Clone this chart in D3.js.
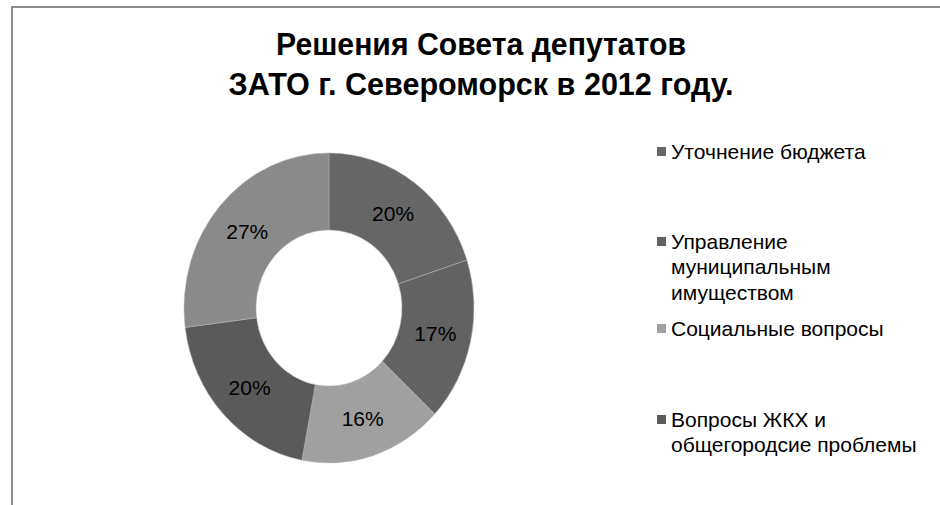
<!DOCTYPE html>
<html>
<head>
<meta charset="utf-8">
<script src="https://cdn.jsdelivr.net/npm/d3@7/dist/d3.min.js"></script>
<style>
  html, body { margin: 0; padding: 0; background: #fff; }
  svg { display: block; font-family: "Liberation Sans", Arial, sans-serif; }
</style>
</head>
<body>
<div id="chart"></div>
<script>
  // slice values (percent), clockwise from 12 o'clock
  const values = [20, 17, 16, 20, 27];
  const sliceColors = ['#666666', '#626262', '#a0a0a0', '#5a5a5a', '#8a8a8a'];
  const legendItems = [
    ['Уточнение бюджета'],
    ['Управление', 'муниципальным', 'имуществом'],
    ['Социальные вопросы'],
    ['Вопросы ЖКХ и', 'общегородсие проблемы']
  ];
  const titleLines = ['Решения Совета депутатов', 'ЗАТО г. Североморск в 2012 году.'];

  const W = 940, H = 505;
  const svg = d3.select('#chart').append('svg')
    .attr('width', W)
    .attr('height', H);

  // chart frame (clipped at the right and bottom edges)
  svg.append('path')
    .attr('d', `M12,${H} L12,7 L${W},7`)
    .attr('fill', 'none')
    .attr('stroke', '#8c8c8c')
    .attr('stroke-width', 2);

  // title (narrow bold face in the original)
  const titleWidths = [410, 505];
  svg.append('g').selectAll('text')
    .data(titleLines)
    .join('text')
    .attr('x', 481)
    .attr('y', (d, i) => 55 + i * 40)
    .attr('text-anchor', 'middle')
    .attr('font-size', 31)
    .attr('font-weight', 700)
    .attr('fill', '#000')
    .attr('textLength', (d, i) => titleWidths[i])
    .attr('lengthAdjust', 'spacingAndGlyphs')
    .text(d => d);

  // donut (slightly taller than wide, as in the original picture)
  const cx = 329, cy = 308;
  const outerR = 145, innerR = 73;
  const sy = 155 / 145;

  const pie = d3.pie().sort(null).value(d => d);
  const arc = d3.arc().innerRadius(innerR).outerRadius(outerR);
  const arcs = pie(values);

  const g = svg.append('g').attr('transform', `translate(${cx},${cy})`);

  g.append('g')
    .attr('transform', `scale(1,${sy})`)
    .selectAll('path.slice')
    .data(arcs)
    .join('path')
    .attr('class', 'slice')
    .attr('d', arc)
    .attr('fill', (d, i) => sliceColors[i])
    .attr('stroke', '#b5b5b5')
    .attr('stroke-width', 0.5);

  g.selectAll('text.pct')
    .data(arcs)
    .join('text')
    .attr('class', 'pct')
    .attr('transform', d => {
      const [x, y] = arc.centroid(d);
      return `translate(${x},${y * sy})`;
    })
    .attr('text-anchor', 'middle')
    .attr('dy', '0.36em')
    .attr('font-size', 21)
    .attr('fill', '#000')
    .text(d => d.data + '%');

  // legend
  const legendY = [151, 241, 328, 419];
  const lineH = 25.5;
  const legend = svg.append('g');
  const item = legend.selectAll('g.item')
    .data(legendItems)
    .join('g')
    .attr('class', 'item')
    .attr('transform', (d, i) => `translate(657,${legendY[i]})`);

  item.append('rect')
    .attr('x', 0)
    .attr('y', -4)
    .attr('width', 9)
    .attr('height', 9)
    .attr('fill', (d, i) => sliceColors[i]);

  item.each(function (lines) {
    d3.select(this).selectAll('text')
      .data(lines)
      .join('text')
      .attr('x', 14)
      .attr('y', (d, j) => j * lineH)
      .attr('dy', '0.36em')
      .attr('font-size', 21)
      .attr('fill', '#000')
      .text(d => d);
  });
</script>
</body>
</html>
